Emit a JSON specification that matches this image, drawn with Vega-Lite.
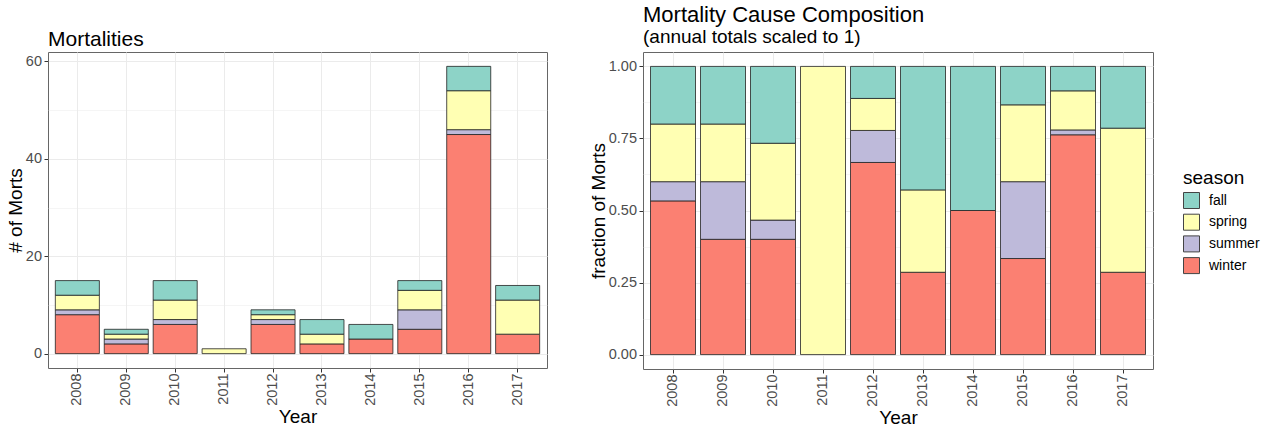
{
  "$schema": "https://vega.github.io/schema/vega-lite/v6.json",
  "background": "white",
  "padding": {"left": 5, "top": 3, "right": 5, "bottom": 2},
  "config": {
    "font": "Liberation Sans",
    "view": {"stroke": "#666666", "strokeWidth": 1},
    "axis": {
      "labelFont": "Liberation Sans",
      "labelColor": "#4D4D4D",
      "labelFontSize": 14.5,
      "titleFont": "Liberation Sans",
      "titleColor": "#000000",
      "titleFontSize": 19,
      "titleFontWeight": "normal",
      "tickColor": "#333333",
      "tickSize": 4,
      "tickWidth": 1,
      "domain": false,
      "grid": true,
      "gridColor": "#EBEBEB"
    },
    "title": {"anchor": "start", "frame": "group", "fontWeight": "normal", "color": "#000000", "font": "Liberation Sans", "subtitleFont": "Liberation Sans"},
    "legend": {
      "titleFont": "Liberation Sans",
      "labelFont": "Liberation Sans",
      "titleFontSize": 19,
      "titleFontWeight": "normal",
      "titleColor": "#000000",
      "labelFontSize": 14,
      "labelColor": "#000000",
      "symbolType": "square",
      "symbolSize": 256,
      "symbolStrokeColor": "#444444",
      "symbolStrokeWidth": 1,
      "rowPadding": 0.7,
      "labelOffset": 9,
      "titlePadding": 4,
      "padding": 0
    }
  },
  "datasets": {
    "morts": [
      {"year": "2008", "season": "winter", "count": 8},
      {"year": "2008", "season": "summer", "count": 1},
      {"year": "2008", "season": "spring", "count": 3},
      {"year": "2008", "season": "fall", "count": 3},
      {"year": "2009", "season": "winter", "count": 2},
      {"year": "2009", "season": "summer", "count": 1},
      {"year": "2009", "season": "spring", "count": 1},
      {"year": "2009", "season": "fall", "count": 1},
      {"year": "2010", "season": "winter", "count": 6},
      {"year": "2010", "season": "summer", "count": 1},
      {"year": "2010", "season": "spring", "count": 4},
      {"year": "2010", "season": "fall", "count": 4},
      {"year": "2011", "season": "spring", "count": 1},
      {"year": "2012", "season": "winter", "count": 6},
      {"year": "2012", "season": "summer", "count": 1},
      {"year": "2012", "season": "spring", "count": 1},
      {"year": "2012", "season": "fall", "count": 1},
      {"year": "2013", "season": "winter", "count": 2},
      {"year": "2013", "season": "spring", "count": 2},
      {"year": "2013", "season": "fall", "count": 3},
      {"year": "2014", "season": "winter", "count": 3},
      {"year": "2014", "season": "fall", "count": 3},
      {"year": "2015", "season": "winter", "count": 5},
      {"year": "2015", "season": "summer", "count": 4},
      {"year": "2015", "season": "spring", "count": 4},
      {"year": "2015", "season": "fall", "count": 2},
      {"year": "2016", "season": "winter", "count": 45},
      {"year": "2016", "season": "summer", "count": 1},
      {"year": "2016", "season": "spring", "count": 8},
      {"year": "2016", "season": "fall", "count": 5},
      {"year": "2017", "season": "winter", "count": 4},
      {"year": "2017", "season": "spring", "count": 7},
      {"year": "2017", "season": "fall", "count": 3}
    ]
  },
  "columns": 2,
  "align": "none",
  "spacing": 40,
  "resolve": {"scale": {"color": "independent"}, "legend": {"color": "independent"}},
  "concat": [
    {
      "width": 499,
      "height": 316,
      "title": {"text": " ", "fontSize": 20, "subtitle": "Mortalities", "subtitleFontSize": 21, "subtitleColor": "#000000", "subtitlePadding": 0, "offset": 2},
      "data": {"name": "morts"},
      "mark": {"type": "bar", "stroke": "#222222", "strokeWidth": 0.8},
      "encoding": {
        "x": {
          "field": "year", "type": "ordinal",
          "scale": {"paddingInner": 0.1, "paddingOuter": 0.15},
          "axis": {"title": "Year", "labelAngle": 270, "labelPadding": 1, "titlePadding": 2}
        },
        "y": {
          "field": "count", "type": "quantitative", "stack": "zero",
          "scale": {"domain": [-2.95, 61.95], "nice": false, "zero": false},
          "axis": {
            "title": "# of Morts",
            "values": [0, 10, 20, 30, 40, 50, 60],
            "labelExpr": "datum.value % 20 === 0 ? format(datum.value, 'd') : ''",
            "gridWidth": {"condition": {"test": "datum.value % 20 === 0", "value": 1}, "value": 0.5},
            "tickOpacity": {"condition": {"test": "datum.value % 20 === 0", "value": 1}, "value": 0},
            "labelPadding": 2.5,
            "titlePadding": 0
          }
        },
        "color": {
          "field": "season", "type": "nominal",
          "scale": {"domain": ["fall", "spring", "summer", "winter"], "range": ["#8DD3C7", "#FFFFB3", "#BEBADA", "#FB8072"]},
          "legend": null
        },
        "order": {"field": "season", "sort": "descending"}
      }
    },
    {
      "width": 510,
      "height": 317,
      "title": {"text": "Mortality Cause Composition", "fontSize": 22, "subtitle": "(annual totals scaled to 1)", "subtitleFontSize": 19, "subtitleColor": "#000000", "subtitlePadding": 1, "offset": 4},
      "data": {"name": "morts"},
      "mark": {"type": "bar", "stroke": "#222222", "strokeWidth": 0.8},
      "encoding": {
        "x": {
          "field": "year", "type": "ordinal",
          "scale": {"paddingInner": 0.1, "paddingOuter": 0.15},
          "axis": {"title": "Year", "labelAngle": 270, "labelPadding": 1, "titlePadding": 2}
        },
        "y": {
          "field": "count", "type": "quantitative", "stack": "normalize",
          "scale": {"domain": [-0.05, 1.05], "nice": false, "zero": false},
          "axis": {
            "title": "fraction of Morts",
            "values": [0, 0.125, 0.25, 0.375, 0.5, 0.625, 0.75, 0.875, 1],
            "labelExpr": "(datum.value * 4) % 1 === 0 ? format(datum.value, '.2f') : ''",
            "gridWidth": {"condition": {"test": "(datum.value * 4) % 1 === 0", "value": 1}, "value": 0.5},
            "tickOpacity": {"condition": {"test": "(datum.value * 4) % 1 === 0", "value": 1}, "value": 0},
            "labelPadding": 2.5,
            "titlePadding": 0
          }
        },
        "color": {
          "field": "season", "type": "nominal",
          "scale": {"domain": ["fall", "spring", "summer", "winter"], "range": ["#8DD3C7", "#FFFFB3", "#BEBADA", "#FB8072"]},
          "legend": {"title": "season", "orient": "none", "legendX": 540, "legendY": 117}
        },
        "order": {"field": "season", "sort": "descending"}
      }
    }
  ]
}
